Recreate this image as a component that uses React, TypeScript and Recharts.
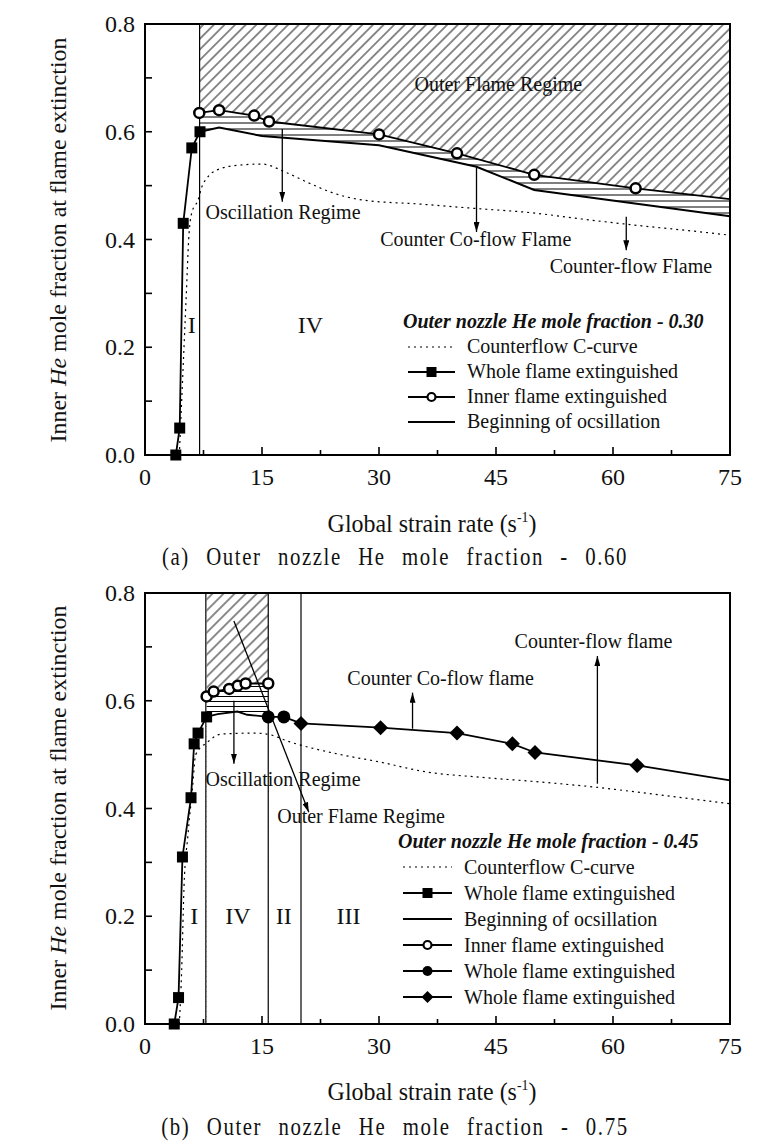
import React from 'react';
import { ComposedChart, Line, Area, XAxis, YAxis, ReferenceLine, ReferenceArea, ReferenceDot } from 'recharts';

const FONT = '"Liberation Serif", "Times New Roman", Times, serif';
const INK = '#111';

// axis ticks
const xTicks = [0, 7.5, 15, 22.5, 30, 37.5, 45, 52.5, 60, 67.5, 75];
const xLabelled = [0, 15, 30, 45, 60, 75];
const yTicks = [0, 0.1, 0.2, 0.3, 0.4, 0.5, 0.6, 0.7, 0.8];
const yLabelled = [0, 0.2, 0.4, 0.6, 0.8];

// (a) outer nozzle He mole fraction 0.60
const cCurveA = [[4.4, 0], [4.7, 0.1], [5.0, 0.2], [5.3, 0.3], [5.6, 0.4], [6.0, 0.45], [6.8, 0.473], [7.3, 0.498], [8, 0.515], [9.2, 0.529], [12, 0.538], [15, 0.54], [18, 0.525], [21, 0.505], [24, 0.487], [28, 0.473], [35, 0.466], [42, 0.458], [50, 0.449], [56, 0.438], [62.6, 0.427], [70, 0.416], [75, 0.408]];
const wholeA = [[3.95, 0], [4.45, 0.05], [4.9, 0.43], [6.0, 0.57], [7.05, 0.6]];
const innerA = [[6.96, 0.635], [9.5, 0.64], [14, 0.63], [15.9, 0.619], [30, 0.595], [40, 0.56], [49.9, 0.52], [62.9, 0.495]];
const innerEdgeA = [75, 0.475];
const oscA = [[7.05, 0.6], [9.5, 0.608], [15, 0.592], [30, 0.575], [42.5, 0.535], [49.9, 0.492], [75, 0.443]];
const boundsA = [7];

// (b) outer nozzle He mole fraction 0.75
const cCurveB = [[4.4, 0], [4.7, 0.1], [5.0, 0.254], [5.5, 0.35], [6.1, 0.44], [6.5, 0.5], [8, 0.523], [9.7, 0.538], [14, 0.54], [15.7, 0.538], [18.7, 0.523], [25.1, 0.5], [30.2, 0.486], [36, 0.468], [43, 0.458], [50, 0.45], [57.5, 0.44], [65, 0.427], [75, 0.409]];
const wholeB = [[3.75, 0], [4.3, 0.049], [4.8, 0.31], [5.9, 0.42], [6.3, 0.52], [6.8, 0.54], [7.9, 0.57]];
const oscB = [[7.9, 0.57], [9.3, 0.575], [11.85, 0.58], [13.1, 0.574], [15.8, 0.57]];
const innerB = [[7.9, 0.608], [8.8, 0.617], [10.8, 0.622], [11.9, 0.628], [12.9, 0.632], [15.8, 0.632]];
const filledB = [[15.8, 0.57], [17.8, 0.57]];
const diamondsB = [[20, 0.558], [30.2, 0.55], [40, 0.54], [47.1, 0.52], [50, 0.504], [63.1, 0.48]];
const diamondEdgeB = [75, 0.452];
const boundsB = [7.8, 15.8, 20];

const toPts = (arr: number[][]) => arr.map(([x, y]) => ({ x, y }));

const upTo = (n: number, draw: (p: any) => React.ReactElement) => (p: any) =>
  p.index < n ? draw(p) : <g key={`skip${p.index}`} />;

const squareDot = (p: any) => <rect key={`sq${p.index}`} x={p.cx - 5.5} y={p.cy - 5.5} width={11} height={11} fill="#000" />;
const openDot = (p: any) => <circle key={`oc${p.index}`} cx={p.cx} cy={p.cy} r={5} fill="#fff" stroke="#000" strokeWidth={2.5} />;
const filledDot = (p: any) => <circle key={`fc${p.index}`} cx={p.cx} cy={p.cy} r={6.5} fill="#000" />;
const diamondDot = (p: any) => (
  <polygon key={`dm${p.index}`} points={`${p.cx},${p.cy - 7.5} ${p.cx + 7.5},${p.cy} ${p.cx},${p.cy + 7.5} ${p.cx - 7.5},${p.cy}`} fill="#000" />
);

const renderXTick = (p: any) => {
  const v = p.payload.value;
  const major = xLabelled.includes(v);
  const axisY = p.y - 6;
  return (
    <g key={`xt${v}`}>
      <line x1={p.x} x2={p.x} y1={axisY} y2={axisY - (major ? 8 : 5)} stroke="#000" strokeWidth={1.6} />
      {major ? (
        <text x={p.x} y={axisY + 22} textAnchor="middle" dominantBaseline="central" fontFamily={FONT} fontSize={24} fill={INK}>{v}</text>
      ) : null}
    </g>
  );
};

const renderYTick = (p: any) => {
  const v = p.payload.value;
  const labelled = yLabelled.some((l) => Math.abs(l - v) < 1e-6);
  const axisX = p.x + 10;
  return (
    <g key={`yt${v}`}>
      <line x1={axisX} x2={axisX + 7} y1={p.y} y2={p.y} stroke="#000" strokeWidth={1.6} />
      {labelled ? (
        <text x={p.x} y={p.y} textAnchor="end" dominantBaseline="central" fontFamily={FONT} fontSize={24} fill={INK}>{v.toFixed(1)}</text>
      ) : null}
    </g>
  );
};

const note = (k: string, x: number, y: number, text: string, size = 20) => (
  <ReferenceDot
    key={k}
    x={x}
    y={y}
    r={0}
    fill="none"
    stroke="none"
    shape={(p: any) => (
      <text x={p.cx} y={p.cy} textAnchor="middle" dominantBaseline="central" fontFamily={FONT} fontSize={size} fill={INK}>{text}</text>
    )}
  />
);

const arrow = (k: string, x1: number, y1: number, x2: number, y2: number, mid: string) => (
  <ReferenceLine key={k} segment={[{ x: x1, y: y1 }, { x: x2, y: y2 }]} stroke="#000" strokeWidth={1.3} markerEnd={`url(#${mid})`} />
);

const defs = (id: string, hatch: number, hz: number) => (
  <defs>
    <pattern id={`diag${id}`} patternUnits="userSpaceOnUse" width={hatch} height={hatch} patternTransform="rotate(45)">
      <line x1={hatch / 2} y1={0} x2={hatch / 2} y2={hatch} stroke="#000" strokeWidth={0.9} />
    </pattern>
    <pattern id={`hz${id}`} patternUnits="userSpaceOnUse" width={10} height={hz}>
      <line x1={0} y1={hz / 2} x2={10} y2={hz / 2} stroke="#000" strokeWidth={1} />
    </pattern>
    <marker id={`arr${id}`} viewBox="0 0 10 6" markerWidth={10} markerHeight={6} refX={10} refY={3} orient="auto" markerUnits="userSpaceOnUse">
      <path d="M0,0 L10,3 L0,6 z" fill="#000" />
    </marker>
  </defs>
);

const axes = () => [
  <XAxis key="x" dataKey="x" type="number" domain={[0, 75]} ticks={xTicks} interval={0} tick={renderXTick} tickLine={false} tickSize={0} tickMargin={6} axisLine={{ stroke: '#000', strokeWidth: 2 }} height={90} />,
  <YAxis key="y" type="number" domain={[0, 0.8]} ticks={yTicks} interval={0} tick={renderYTick} tickLine={false} tickSize={0} tickMargin={10} axisLine={{ stroke: '#000', strokeWidth: 2 }} width={145} />,
];

const CHART_W = 775;
const CHART_H = 545;
const MARGIN = { top: 24, right: 45, left: 0, bottom: 0 };

function PanelA() {
  return (
    <ComposedChart width={CHART_W} height={CHART_H} margin={MARGIN}>
      {defs('A', 7.5, 6)}
      {axes()}
      <Area data={toPts(innerA.concat([innerEdgeA]))} dataKey="y" type="linear" baseValue={0} fill="url(#hzA)" fillOpacity={1} stroke="none" isAnimationActive={false} />
      <Area data={toPts(oscA)} dataKey="y" type="linear" baseValue={0} fill="#fff" fillOpacity={1} stroke="none" isAnimationActive={false} />
      <Area data={toPts(innerA.concat([innerEdgeA]))} dataKey="y" type="linear" baseValue={0.8} fill="url(#diagA)" fillOpacity={1} stroke="none" isAnimationActive={false} />
      {boundsA.map((b) => (
        <ReferenceLine key={`b${b}`} x={b} stroke="#000" strokeWidth={1.2} />
      ))}
      <Line data={toPts(cCurveA)} dataKey="y" type="monotone" stroke="#000" strokeWidth={1.2} strokeDasharray="2 4" dot={false} activeDot={false} isAnimationActive={false} />
      <Line data={toPts(oscA)} dataKey="y" type="linear" stroke="#000" strokeWidth={2} dot={false} activeDot={false} isAnimationActive={false} />
      <Line data={toPts(innerA.concat([innerEdgeA]))} dataKey="y" type="linear" stroke="#000" strokeWidth={1.8} dot={upTo(innerA.length, openDot)} activeDot={false} isAnimationActive={false} />
      <Line data={toPts(wholeA)} dataKey="y" type="linear" stroke="#000" strokeWidth={1.8} dot={squareDot} activeDot={false} isAnimationActive={false} />
      {arrow('o', 17.6, 0.605, 17.6, 0.47, 'arrA')}
      {arrow('c', 42.5, 0.535, 42.5, 0.414, 'arrA')}
      {arrow('f', 61.7, 0.442, 61.7, 0.38, 'arrA')}
      {note('n1', 45.3, 0.688, 'Outer Flame Regime')}
      {note('n2', 17.7, 0.451, 'Oscillation Regime')}
      {note('n3', 42.4, 0.401, 'Counter Co-flow Flame')}
      {note('n4', 62.3, 0.351, 'Counter-flow Flame')}
      {note('r1', 6.0, 0.241, 'I', 24)}
      {note('r2', 21.2, 0.241, 'IV', 24)}
      <ReferenceArea x1={0} x2={75} y1={0} y2={0.8} fill="none" stroke="#000" strokeWidth={2} />
    </ComposedChart>
  );
}

function PanelB() {
  return (
    <ComposedChart width={CHART_W} height={CHART_H} margin={MARGIN}>
      {defs('B', 7.8, 5)}
      {axes()}
      <Area data={toPts(innerB)} dataKey="y" type="linear" baseValue={0} fill="url(#hzB)" fillOpacity={1} stroke="none" isAnimationActive={false} />
      <Area data={toPts(oscB)} dataKey="y" type="linear" baseValue={0} fill="#fff" fillOpacity={1} stroke="none" isAnimationActive={false} />
      <Area data={toPts(innerB)} dataKey="y" type="linear" baseValue={0.8} fill="url(#diagB)" fillOpacity={1} stroke="none" isAnimationActive={false} />
      {boundsB.map((b) => (
        <ReferenceLine key={`b${b}`} x={b} stroke="#000" strokeWidth={1.2} />
      ))}
      <Line data={toPts(cCurveB)} dataKey="y" type="monotone" stroke="#000" strokeWidth={1.2} strokeDasharray="2 4" dot={false} activeDot={false} isAnimationActive={false} />
      <Line data={toPts(oscB)} dataKey="y" type="linear" stroke="#000" strokeWidth={1.8} dot={false} activeDot={false} isAnimationActive={false} />
      <Line data={toPts(innerB)} dataKey="y" type="linear" stroke="#000" strokeWidth={1.8} dot={openDot} activeDot={false} isAnimationActive={false} />
      <Line data={toPts(filledB.concat([diamondsB[0]]))} dataKey="y" type="linear" stroke="#000" strokeWidth={1.8} dot={upTo(filledB.length, filledDot)} activeDot={false} isAnimationActive={false} />
      <Line data={toPts(diamondsB.concat([diamondEdgeB]))} dataKey="y" type="linear" stroke="#000" strokeWidth={1.8} dot={upTo(diamondsB.length, diamondDot)} activeDot={false} isAnimationActive={false} />
      <Line data={toPts(wholeB)} dataKey="y" type="linear" stroke="#000" strokeWidth={1.8} dot={squareDot} activeDot={false} isAnimationActive={false} />
      {arrow('o', 11.4, 0.6, 11.4, 0.483, 'arrB')}
      {arrow('d', 11.4, 0.748, 21.0, 0.393, 'arrB')}
      {arrow('c', 34.3, 0.548, 34.3, 0.615, 'arrB')}
      {arrow('f', 58, 0.446, 58, 0.683, 'arrB')}
      {note('n1', 17.7, 0.454, 'Oscillation Regime')}
      {note('n2', 27.7, 0.387, 'Outer Flame Regime')}
      {note('n3', 37.9, 0.643, 'Counter Co-flow flame')}
      {note('n4', 57.5, 0.711, 'Counter-flow flame')}
      {note('r1', 6.3, 0.2, 'I', 24)}
      {note('r2', 11.9, 0.2, 'IV', 24)}
      {note('r3', 17.8, 0.2, 'II', 24)}
      {note('r4', 26.1, 0.2, 'III', 24)}
      <ReferenceArea x1={0} x2={75} y1={0} y2={0.8} fill="none" stroke="#000" strokeWidth={2} />
    </ComposedChart>
  );
}

type Sym = 'dotted' | 'square' | 'open' | 'line' | 'filled' | 'diamond';

function Sample({ kind, w }: { kind: Sym; w: number }) {
  const cy = 8;
  const cx = w / 2;
  return (
    <svg width={w + 12} height={16} style={{ flex: 'none' }}>
      {kind === 'dotted' ? (
        <line x1={0} x2={w} y1={cy} y2={cy} stroke="#000" strokeWidth={1.2} strokeDasharray="2 4" />
      ) : (
        <line x1={0} x2={w} y1={cy} y2={cy} stroke="#000" strokeWidth={2} />
      )}
      {kind === 'square' ? <rect x={cx - 5} y={cy - 5} width={10} height={10} fill="#000" /> : null}
      {kind === 'open' ? <circle cx={cx} cy={cy} r={4} fill="#fff" stroke="#000" strokeWidth={2.2} /> : null}
      {kind === 'filled' ? <circle cx={cx} cy={cy} r={5} fill="#000" /> : null}
      {kind === 'diamond' ? <polygon points={`${cx},${cy - 6} ${cx + 6},${cy} ${cx},${cy + 6} ${cx - 6},${cy}`} fill="#000" /> : null}
    </svg>
  );
}

function LegendBox({ left, top, title, rows, rowH, w }: { left: number; top: number; title: string; rows: Array<[Sym, string]>; rowH: number; w: number }) {
  return (
    <div style={{ position: 'absolute', left, top, fontFamily: FONT, color: INK, whiteSpace: 'nowrap' }}>
      <div style={{ fontWeight: 'bold', fontStyle: 'italic', fontSize: 20, lineHeight: `${rowH}px`, height: rowH }}>{title}</div>
      {rows.map(([kind, label], i) => (
        <div key={i} style={{ display: 'flex', alignItems: 'center', height: rowH, fontSize: 20, marginLeft: 5 }}>
          <Sample kind={kind} w={w} />
          <span>{label}</span>
        </div>
      ))}
    </div>
  );
}

const centered = (x: number, y: number, extra = ''): React.CSSProperties => ({
  position: 'absolute',
  left: x,
  top: y,
  transform: `translate(-50%, -50%) ${extra}`,
  whiteSpace: 'nowrap',
  fontFamily: FONT,
  color: INK,
});

function YTitle({ y }: { y: number }) {
  return (
    <div style={{ ...centered(58, y, 'rotate(-90deg)'), fontSize: 24 }}>
      Inner <i>He</i> mole fraction at flame extinction
    </div>
  );
}

function XTitle({ y }: { y: number }) {
  return (
    <div style={{ ...centered(432, y, 'scaleX(0.92)'), fontSize: 26 }}>
      Global strain rate (s<sup style={{ fontSize: 15 }}>-1</sup>)
    </div>
  );
}

function Caption({ y, text }: { y: number; text: string }) {
  return (
    <div style={{ ...centered(395, y, 'scaleX(0.8)'), fontSize: 26, letterSpacing: 2, wordSpacing: 12 }}>{text}</div>
  );
}

export default function App() {
  return (
    <div style={{ position: 'absolute', left: 0, top: 0, width: 775, height: 1144, background: '#fff', overflow: 'hidden' }}>
      <div style={{ position: 'absolute', left: 0, top: 0 }}>
        <PanelA />
      </div>
      <div style={{ position: 'absolute', left: 0, top: 569 }}>
        <PanelB />
      </div>
      <YTitle y={240} />
      <YTitle y={808} />
      <XTitle y={524} />
      <XTitle y={1092} />
      <Caption y={557} text="(a) Outer nozzle He mole fraction - 0.60" />
      <Caption y={1127} text="(b) Outer nozzle He mole fraction - 0.75" />
      <LegendBox
        left={403}
        top={309}
        rowH={25}
        w={47}
        title="Outer nozzle He mole fraction - 0.30"
        rows={[
          ['dotted', 'Counterflow C-curve'],
          ['square', 'Whole flame extinguished'],
          ['open', 'Inner flame extinguished'],
          ['line', 'Beginning of ocsillation'],
        ]}
      />
      <LegendBox
        left={398}
        top={828}
        rowH={26}
        w={49}
        title="Outer nozzle He mole fraction - 0.45"
        rows={[
          ['dotted', 'Counterflow C-curve'],
          ['square', 'Whole flame extinguished'],
          ['line', 'Beginning of ocsillation'],
          ['open', 'Inner flame extinguished'],
          ['filled', 'Whole flame extinguished'],
          ['diamond', 'Whole flame extinguished'],
        ]}
      />
    </div>
  );
}
